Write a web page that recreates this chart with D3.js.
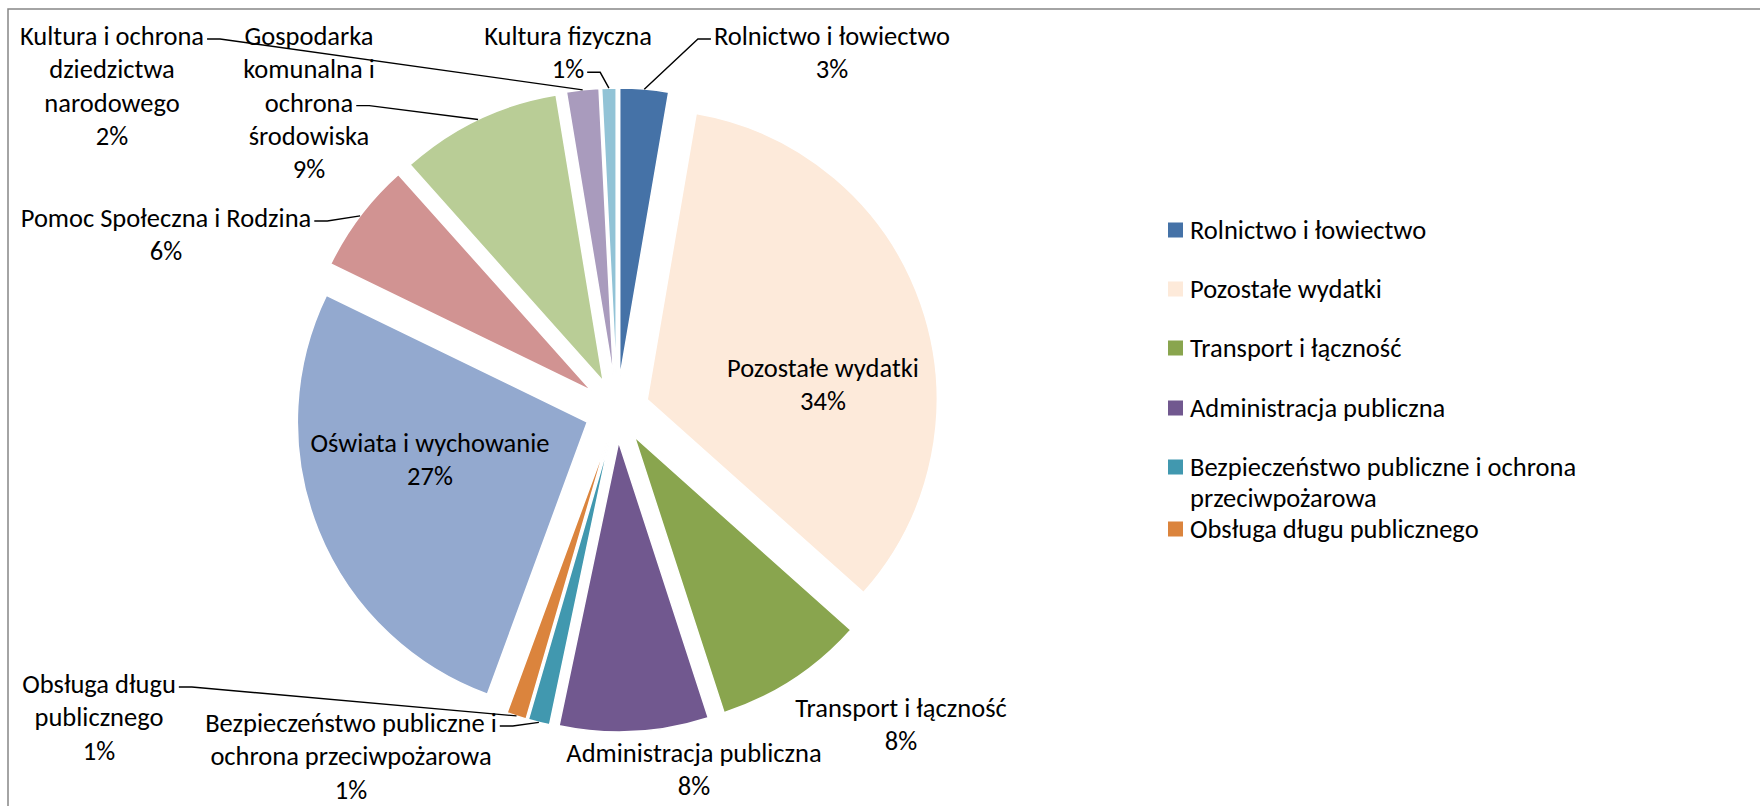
<!DOCTYPE html>
<html>
<head>
<meta charset="utf-8">
<script src="https://cdn.jsdelivr.net/npm/d3@7"></script>
<style>
  body { margin: 0; background: #fff; }
  svg text { font-family: Carlito, Calibri, Lato, sans-serif; fill: #000; }
</style>
</head>
<body>
<div id="chart"></div>
<script>
// budget structure, clockwise from 12 o'clock
var categories = [
  "Rolnictwo i łowiectwo",
  "Pozostałe wydatki",
  "Transport i łączność",
  "Administracja publiczna",
  "Bezpieczeństwo publiczne i ochrona przeciwpożarowa",
  "Obsługa długu publicznego",
  "Oświata i wychowanie",
  "Pomoc Społeczna i Rodzina",
  "Gospodarka komunalna i ochrona środowiska",
  "Kultura i ochrona dziedzictwa narodowego",
  "Kultura fizyczna"
];
var values = [2.7, 33.9, 8.4, 8.3, 1.2, 1.1, 26.6, 6.2, 9.0, 1.8, 0.8];
var colors = ["#4572A7", "#FDEADA", "#89A54E", "#71588F", "#4198AF", "#DB843D",
              "#93A9CF", "#D19392", "#B9CD96", "#A99BBD", "#92C3D6"];

// legend only shows the first entries (as in the original)
var legendLines = [
  ["Rolnictwo i łowiectwo"],
  ["Pozostałe wydatki"],
  ["Transport i łączność"],
  ["Administracja publiczna"],
  ["Bezpieczeństwo publiczne i ochrona", "przeciwpożarowa"],
  ["Obsługa długu publicznego"]
];
var legendY = [230, 289, 348, 408, 467, 529];

// data label layout (manual placement, like Excel)
var labelLayout = [
  { lines: ["Rolnictwo i łowiectwo"], x: 832, y: 36, leader: { line: 0, side: "left" } },
  { lines: ["Pozostałe wydatki"], x: 823, y: 368 },
  { lines: ["Transport i łączność"], x: 901, y: 708 },
  { lines: ["Administracja publiczna"], x: 694, y: 753 },
  { lines: ["Bezpieczeństwo publiczne i", "ochrona przeciwpożarowa"], x: 351, y: 723, leader: { line: 0, side: "right" } },
  { lines: ["Obsługa długu", "publicznego"], x: 99, y: 684, leader: { line: 0, side: "right" } },
  { lines: ["Oświata i wychowanie"], x: 430, y: 443 },
  { lines: ["Pomoc Społeczna i Rodzina"], x: 166, y: 218, leader: { line: 0, side: "right" } },
  { lines: ["Gospodarka", "komunalna i", "ochrona", "środowiska"], x: 309, y: 36, leader: { line: 2, side: "right" } },
  { lines: ["Kultura i ochrona", "dziedzictwa", "narodowego"], x: 112, y: 36, leader: { line: 0, side: "right" } },
  { lines: ["Kultura fizyczna"], x: 568, y: 36, leader: { line: 1, side: "right" } }
];

var width = 1760, height = 806;
var cx = 617, cy = 410, radius = 290, explode = 32;
var fontSize = 26.5, lineH = 33.3;

var svg = d3.select("#chart").append("svg")
  .attr("width", width)
  .attr("height", height);

// chart frame (only top/left edges visible)
svg.append("path")
  .attr("d", "M8," + (height + 5) + "V9H" + (width + 5))
  .attr("fill", "none")
  .attr("stroke", "#868686")
  .attr("stroke-width", 1.5);

var total = d3.sum(values);
var pie = d3.pie().sort(null).value(function(d) { return d; });
var arcs = pie(values);
var arc = d3.arc().innerRadius(0).outerRadius(radius);

function offset(a, r) {
  var m = (a.startAngle + a.endAngle) / 2;
  return [Math.sin(m) * r, -Math.cos(m) * r];
}

var g = svg.append("g").attr("transform", "translate(" + cx + "," + cy + ")");

g.selectAll("path.slice")
  .data(arcs)
  .enter().append("path")
  .attr("class", "slice")
  .attr("d", arc)
  .attr("transform", function(d) {
    var o = offset(d, explode);
    return "translate(" + o[0] + "," + o[1] + ")";
  })
  .attr("fill", function(d, i) { return colors[i]; })
  .attr("stroke", "#fff")
  .attr("stroke-width", 1.5);

// data labels
arcs.forEach(function(a, i) {
  var lay = labelLayout[i];
  var pct = Math.round(values[i] / total * 100) + "%";
  var lines = lay.lines.concat([pct]);
  var tg = svg.append("g");
  var nodes = [];
  lines.forEach(function(t, k) {
    var tx = tg.append("text")
      .attr("x", lay.x)
      .attr("y", lay.y + k * lineH)
      .attr("text-anchor", "middle")
      .attr("dominant-baseline", "central")
      .style("font-size", fontSize + "px")
      .text(t);
    nodes.push(tx.node());
  });

  if (lay.leader) {
    var w = nodes[lay.leader.line].getComputedTextLength();
    var ly = lay.y + lay.leader.line * lineH + 3;
    var sx = lay.leader.side === "right" ? lay.x + w / 2 + 3 : lay.x - w / 2 - 3;
    var ex = lay.leader.side === "right" ? sx + 13 : sx - 13;
    var o = offset(a, radius + explode);
    svg.append("path")
      .attr("d", "M" + sx + "," + ly + "L" + ex + "," + ly + "L" + (cx + o[0]) + "," + (cy + o[1]))
      .attr("fill", "none")
      .attr("stroke", "#000")
      .attr("stroke-width", 1.4);
  }
});

// legend
var legend = svg.append("g");
legendLines.forEach(function(lines, i) {
  legend.append("rect")
    .attr("x", 1168)
    .attr("y", legendY[i] - 7.5)
    .attr("width", 15)
    .attr("height", 15)
    .attr("fill", colors[i]);
  lines.forEach(function(t, k) {
    legend.append("text")
      .attr("x", 1190)
      .attr("y", legendY[i] + k * 31)
      .attr("dominant-baseline", "central")
      .style("font-size", fontSize + "px")
      .text(t);
  });
});
</script>
</body>
</html>
